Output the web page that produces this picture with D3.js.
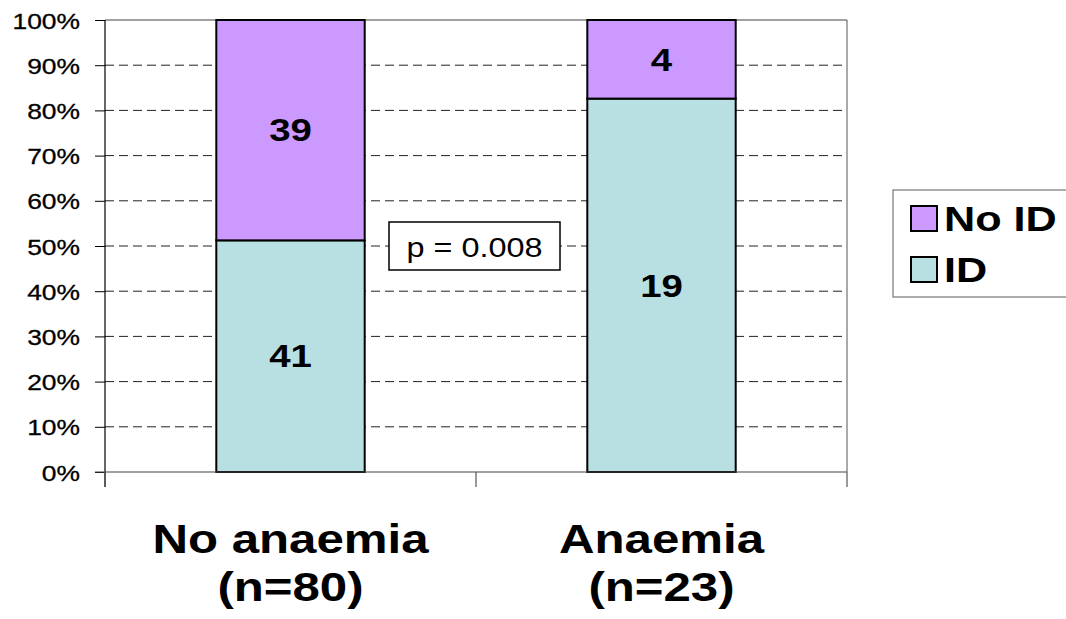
<!DOCTYPE html>
<html>
<head>
<meta charset="utf-8">
<script src="https://cdn.jsdelivr.net/npm/d3@7"></script>
<style>
  html, body { margin: 0; padding: 0; background: #fff; }
  svg { display: block; font-family: "Liberation Sans", Arial, sans-serif; }
</style>
</head>
<body>
<svg id="chart" width="1066" height="619"></svg>
<script>
// Iron deficiency (ID) by anaemia status — stacked 100% columns
const categories = ["No anaemia", "Anaemia"];
const groupSizes = ["(n=80)", "(n=23)"];
const idCounts = [41, 19];
const noIdCounts = [39, 4];
const seriesNames = ["ID", "No ID"];
const seriesColors = ["#B8DFE2", "#CC99FF"];
const yTickValues = [0, 0.1, 0.2, 0.3, 0.4, 0.5, 0.6, 0.7, 0.8, 0.9, 1.0];
const pValueText = "p = 0.008";

const svg = d3.select("#chart");
const plot = { left: 105, right: 847, top: 20, bottom: 472 };
const SX = 1.2; // horizontal widening of the lettering

const x = d3.scaleBand().domain(categories).range([plot.left, plot.right]).padding(0);
const y = d3.scaleLinear().domain([0, 1]).range([plot.bottom, plot.top]);
const barW = x.bandwidth() * 0.4;

// helper: place widened text
function wideText(g, tx, ty, str, size, weight, anchor, baseline) {
  return g.append("text")
    .attr("transform", `translate(${tx},${ty}) scale(${SX},1)`)
    .attr("font-size", size)
    .attr("font-weight", weight)
    .attr("text-anchor", anchor)
    .attr("dominant-baseline", baseline || "auto")
    .attr("fill", "#000")
    .text(str);
}

// gridlines (dashed, 10%–90%)
svg.append("g")
  .selectAll("line")
  .data(yTickValues.filter(v => v > 0 && v < 1))
  .join("line")
  .attr("x1", plot.left).attr("x2", plot.right)
  .attr("y1", d => y(d)).attr("y2", d => y(d))
  .attr("stroke", "#222").attr("stroke-width", 1)
  .attr("stroke-dasharray", "9,5");

// plot frame: top and right edges
svg.append("line").attr("x1", plot.left).attr("x2", plot.right)
  .attr("y1", plot.top).attr("y2", plot.top).attr("stroke", "#444");
svg.append("line").attr("x1", plot.right).attr("x2", plot.right)
  .attr("y1", plot.top).attr("y2", plot.bottom).attr("stroke", "#555");

// stacked proportions
const rows = categories.map((c, i) => {
  const tot = idCounts[i] + noIdCounts[i];
  return { cat: c, ID: idCounts[i] / tot, "No ID": noIdCounts[i] / tot, idN: idCounts[i], noIdN: noIdCounts[i] };
});
const stacked = d3.stack().keys(seriesNames)(rows);

const barG = svg.append("g");
stacked.forEach((layer, li) => {
  barG.append("g").selectAll("rect")
    .data(layer)
    .join("rect")
    .attr("x", d => x(d.data.cat) + (x.bandwidth() - barW) / 2)
    .attr("width", barW)
    .attr("y", d => y(d[1]))
    .attr("height", d => y(d[0]) - y(d[1]))
    .attr("fill", seriesColors[li])
    .attr("stroke", "#000")
    .attr("stroke-width", 2);
});

// count labels inside segments
stacked.forEach((layer, li) => {
  layer.forEach(d => {
    const n = li === 0 ? d.data.idN : d.data.noIdN;
    const cx = x(d.data.cat) + x.bandwidth() / 2;
    const cy = (y(d[0]) + y(d[1])) / 2;
    wideText(svg, cx, cy, String(n), 32, "bold", "middle", "central");
  });
});

// y axis
const yAxis = d3.axisLeft(y).tickValues(yTickValues).tickFormat(d3.format(".0%"))
  .tickSize(10).tickPadding(8);
const yg = svg.append("g").attr("transform", `translate(${plot.left},0)`).call(yAxis);
yg.select(".domain").remove();
yg.selectAll(".tick line").attr("stroke", "#000");
yg.selectAll(".tick text").remove();
yg.append("line").attr("x1", 0).attr("x2", 0).attr("y1", plot.top).attr("y2", plot.bottom + 15)
  .attr("stroke", "#000").attr("stroke-width", 1.2);
yTickValues.forEach(v => {
  wideText(svg, 80, y(v) + 1, d3.format(".0%")(v), 22, "normal", "end", "central")
    .attr("stroke", "#000").attr("stroke-width", 0.3);
});

// x axis baseline with separators
svg.append("line").attr("x1", plot.left - 10).attr("x2", plot.right)
  .attr("y1", plot.bottom).attr("y2", plot.bottom).attr("stroke", "#444").attr("stroke-width", 1.2);
const seps = [plot.left, x(categories[1]), plot.right];
svg.append("g").selectAll("line").data(seps).join("line")
  .attr("x1", d => d).attr("x2", d => d)
  .attr("y1", plot.bottom).attr("y2", plot.bottom + 15)
  .attr("stroke", "#555").attr("stroke-width", 1.2);

// category labels
categories.forEach((c, i) => {
  const cx = x(c) + x.bandwidth() / 2;
  wideText(svg, cx, 553, c, 41, "bold", "middle");
  wideText(svg, cx, 601, groupSizes[i], 41, "bold", "middle");
});

// p-value annotation
const pBox = svg.append("g");
pBox.append("rect").attr("x", 389).attr("y", 222).attr("width", 171).attr("height", 48)
  .attr("fill", "#fff").attr("stroke", "#000").attr("stroke-width", 1.5);
wideText(pBox, 474.5, 247, pValueText, 27, "normal", "middle", "central");

// legend
const leg = svg.append("g");
leg.append("rect").attr("x", 893).attr("y", 190).attr("width", 200).attr("height", 107)
  .attr("fill", "#fff").attr("stroke", "#777").attr("stroke-width", 1.2);
const legendOrder = ["No ID", "ID"];
legendOrder.forEach((name, i) => {
  const yy = 206 + i * 51;
  leg.append("rect").attr("x", 911).attr("y", yy).attr("width", 26).attr("height", 25)
    .attr("fill", seriesColors[seriesNames.indexOf(name)]).attr("stroke", "#000").attr("stroke-width", 2);
  wideText(leg, 944, yy + 12.5, name, 36, "bold", "start", "central");
});
</script>
</body>
</html>
